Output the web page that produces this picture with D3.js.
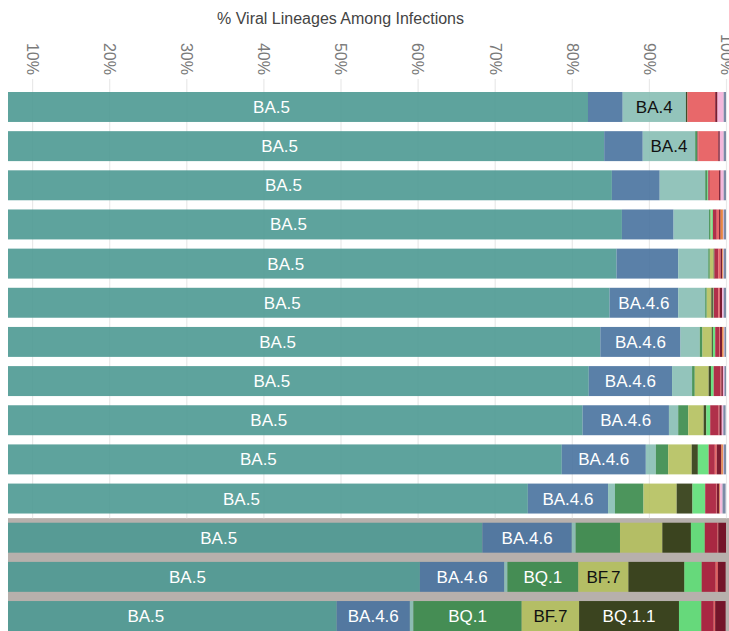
<!DOCTYPE html>
<html>
<head>
<meta charset="utf-8">
<script src="https://cdn.jsdelivr.net/npm/d3@7"></script>
<style>
  body { margin: 0; background: #fff; }
  svg { display: block; font-family: "Liberation Sans", Arial, Helvetica, sans-serif; }
</style>
</head>
<body>
<svg id="chart" width="729" height="631"></svg>
<script>
// week ending dates (one bar per week, top to bottom)
const weeks = ['7/23/22', '7/30/22', '8/6/22', '8/13/22', '8/20/22', '8/27/22', '9/3/22',
  '9/10/22', '9/17/22', '9/24/22', '10/1/22', '10/8/22', '10/15/22', '10/22/22'];
// the last weeks are modelled estimates, shown on a grey band
const nowcastWeeks = ['10/8/22', '10/15/22', '10/22/22'];

const lineages = ['BA.5', 'BA.4.6', 'BA.4', 'BQ.1', 'BF.7', 'BQ.1.1', 'BA.2.75',
  'BA.5.2.6', 'BA.2.12.1', 'BN.1', 'BA.2.75.2', 'BA.2', 'Other'];
const palette = ['#4d9992', '#48729e', '#87beb4', '#39894a', '#b4c05d', '#2e390f', '#5dde76',
  '#a71936', '#e5585a', '#6d041c', '#e57a2e', '#f3b0d8', '#6e7e9c'];

// share of infections (%) per lineage, same order as weeks
const ba5 = [82.1, 84.2, 85.2, 86.5, 85.8, 84.9, 83.7, 82.2, 81.4, 78.7, 74.3, 68.4, 60.3, 49.5];
const ba46 = [4.5, 5.0, 6.2, 6.7, 8.0, 8.9, 10.4, 10.8, 11.2, 10.9, 10.4, 11.6, 10.95, 9.5];
const ba4 = [8.2, 6.8, 5.9, 4.6, 3.9, 3.5, 2.5, 2.6, 1.2, 1.3, 0.9, 0.5, 0.4, 0.45];
const bq1 = [0, 0.3, 0.3, 0.2, 0.2, 0.2, 0.35, 0.35, 1.3, 1.6, 3.7, 5.75, 9.2, 14.05];
const bf7 = [0, 0, 0, 0.1, 0.5, 0.6, 1.2, 1.8, 2.0, 3.05, 4.3, 5.5, 6.5, 7.45];
const bq11 = [0.2, 0, 0, 0, 0.1, 0.2, 0.15, 0.3, 0.35, 0.8, 2.05, 3.7, 7.25, 12.95];
const ba275 = [0, 0, 0.1, 0.2, 0, 0.1, 0.3, 0.35, 0.5, 1.4, 1.65, 1.8, 2.25, 2.9];
const ba526 = [0, 0.1, 0.2, 0.5, 0.5, 0.6, 0.5, 0.9, 1.1, 0.8, 1.4, 1.65, 1.8, 1.6];
const ba2121 = [3.6, 2.6, 1.2, 0.3, 0.3, 0.2, 0.1, 0.1, 0.1, 0.25, 0.1, 0.1, 0.3, 0.2];
const bn1 = [0.3, 0.2, 0.2, 0.2, 0.2, 0.3, 0.3, 0.2, 0.3, 0.6, 0.35, 1.0, 1.0, 1.35];
const ba2752 = [0, 0, 0, 0.3, 0.1, 0, 0.2, 0, 0, 0.2, 0.1, 0, 0, 0];
const ba2 = [0.8, 0.5, 0.4, 0.1, 0.1, 0.2, 0.1, 0.2, 0.2, 0.1, 0.3, 0, 0, 0];
const other = [0.3, 0.3, 0.3, 0.3, 0.3, 0.3, 0.2, 0.2, 0.3, 0.3, 0.4, 0, 0, 0];

const percentTicks = [10, 20, 30, 40, 50, 60, 70, 80, 90, 100];

const series = [ba5, ba46, ba4, bq1, bf7, bq11, ba275, ba526, ba2121, bn1, ba2752, ba2, other];

const width = 729;
const height = 631;

// one row object per week, keyed by lineage, so d3.stack can pile them up
const rows = weeks.map((week, i) => {
  const row = { week };
  lineages.forEach((name, j) => (row[name] = series[j][i]));
  return row;
});
const stacked = d3.stack().keys(lineages)(rows);

// the plot starts left of the frame, so only the part from x=8 is visible
const plotLeft = 8;
const x = d3.scaleLinear().domain([0, 100]).range([-45, 726]);
const y = d3.scaleBand().domain(weeks).range([92, height]).paddingInner(0.235).paddingOuter(0);

const svg = d3.select('#chart');

svg.append('defs')
  .append('clipPath')
  .attr('id', 'plot-clip')
  .append('rect')
  .attr('x', plotLeft)
  .attr('y', 0)
  .attr('width', width - plotLeft)
  .attr('height', height);

svg.append('text')
  .attr('x', x(50))
  .attr('y', 24)
  .attr('text-anchor', 'middle')
  .style('font-size', '16px')
  .style('fill', '#444')
  .text('% Viral Lineages Among Infections');

// grey band behind the nowcast weeks
const bandTop = y(nowcastWeeks[0]) - (y.step() * y.paddingInner()) / 2;
svg.append('rect')
  .attr('x', plotLeft)
  .attr('y', bandTop)
  .attr('width', width - plotLeft)
  .attr('height', height - bandTop)
  .attr('fill', '#b7b0ac');

// top axis: rotated labels, tick lines run down as gridlines
const gridTop = 79;
const axis = svg.append('g')
  .attr('transform', `translate(0,${gridTop})`)
  .call(
    d3.axisTop(x)
      .tickValues(percentTicks)
      .tickSize(-(bandTop - gridTop))
      .tickFormat((d) => d + '%')
  );
axis.select('.domain').remove();
axis.selectAll('.tick line').attr('stroke', '#e9e9e9').attr('stroke-width', 1.2);
axis.selectAll('.tick text')
  .attr('x', -4)
  .attr('y', 0)
  .attr('dy', '0.35em')
  .attr('transform', 'rotate(90)')
  .attr('text-anchor', 'end')
  .style('font-size', '16px')
  .style('font-family', '"Liberation Sans", Arial, sans-serif')
  .attr('fill', '#7a7a7a');

const plot = svg.append('g').attr('clip-path', 'url(#plot-clip)');

const layers = plot.selectAll('g.layer')
  .data(stacked)
  .join('g')
  .attr('class', 'layer')
  .attr('fill', (d, i) => palette[i]);

layers.selectAll('rect')
  .data((d) => d)
  .join('rect')
  .attr('x', (d) => x(d[0]))
  .attr('y', (d) => y(d.data.week))
  .attr('width', (d) => Math.max(0, x(d[1]) - x(d[0])))
  .attr('height', y.bandwidth())
  .attr('fill-opacity', 0.9);

// lineage names inside the segments, kept only where they fit
plot.append('g')
  .selectAll('g')
  .data(stacked)
  .join('g')
  .each(function (layer, i) {
    const dark = d3.lab(palette[i]).l < 65;
    d3.select(this)
      .selectAll('text')
      .data(layer.filter((d) => d[1] - d[0] > 0))
      .join('text')
      .attr('x', (d) => (x(d[0]) + x(d[1])) / 2)
      .attr('y', (d) => y(d.data.week) + y.bandwidth() / 2)
      .attr('dy', '0.35em')
      .attr('text-anchor', 'middle')
      .style('font-size', '17px')
      .style('fill', dark ? '#fff' : '#111')
      .text(layer.key)
      .each(function (d) {
        const segWidth = x(d[1]) - x(d[0]);
        if (this.getComputedTextLength() + 13 > segWidth) d3.select(this).remove();
      });
  });
</script>
</body>
</html>
